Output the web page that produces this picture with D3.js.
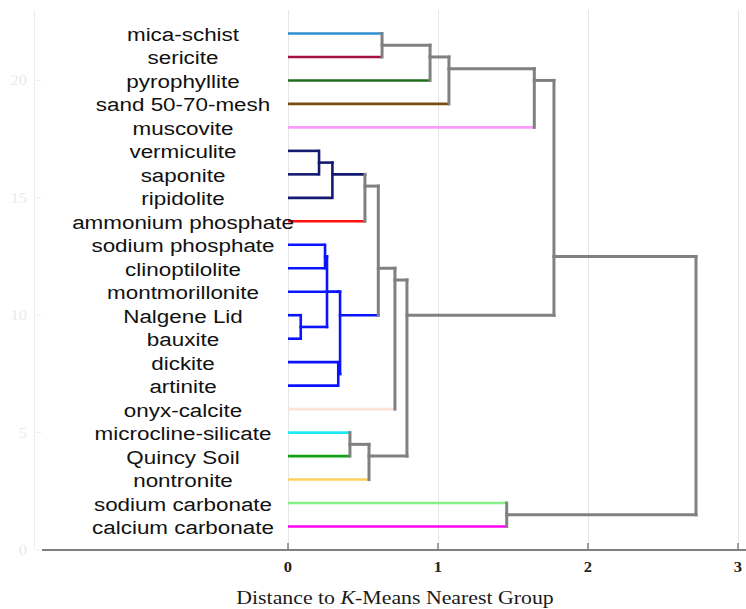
<!DOCTYPE html>
<html>
<head>
<meta charset="utf-8">
<script src="https://cdn.jsdelivr.net/npm/d3@7"></script>
<style>
  html, body { margin: 0; padding: 0; background: #fff; }
  svg { display: block; }
</style>
</head>
<body>
<div id="chart"></div>
<script>
// ---- DATA ----
const leafNames = [
  "mica-schist", "sericite", "pyrophyllite", "sand 50-70-mesh", "muscovite",
  "vermiculite", "saponite", "ripidolite", "ammonium phosphate",
  "sodium phosphate", "clinoptilolite", "montmorillonite", "Nalgene Lid",
  "bauxite", "dickite", "artinite", "onyx-calcite", "microcline-silicate",
  "Quincy Soil", "nontronite", "sodium carbonate", "calcium carbonate"
];
const leafColors = [
  "#2f8fd0", "#a3123f", "#1f6f1f", "#7a4b0e", "#ff9cff",
  "#141a72", "#141a72", "#141a72", "#ff1010",
  "#0a14ff", "#0a14ff", "#0a14ff", "#0a14ff",
  "#0a14ff", "#0a14ff", "#0a14ff", "#fce4d8", "#20e8f8",
  "#14a014", "#ffd060", "#88f088", "#ff00ee"
];
// linkage: [child A, child B] (leaf index < 22, merged node index = 22 + row)
const mergeChildren = [
  [0, 1], [22, 2], [23, 3], [24, 4],
  [5, 6], [26, 7], [27, 8],
  [12, 13], [9, 10], [30, 29], [31, 11], [14, 15], [32, 33],
  [28, 34], [35, 16], [17, 18], [37, 19], [36, 38],
  [25, 39], [20, 21], [40, 41]
];
const mergeHeights = [
  0.627, 0.947, 1.073, 1.642,
  0.207, 0.296, 0.513,
  0.085, 0.247, 0.26, 0.335, 0.335, 0.347,
  0.602, 0.713, 0.413, 0.54, 0.793,
  1.773, 1.458, 2.72
];
const xTicks = [0, 1, 2, 3];
const yTicks = [0, 5, 10, 15, 20];
const xTitleParts = ["Distance to ", "K", "-Means Nearest Group"];

// ---- LAYOUT ----
const W = 746, H = 609;
const GRAY = "#808080";
const SX = 1.18; // horizontal text stretch seen in the reference
const svg = d3.select("#chart").append("svg").attr("width", W).attr("height", H);

const x = d3.scaleLinear().domain([0, 3]).range([288, 738]);
const y = d3.scaleLinear().domain([0, 23]).range([550, 10]);

// frame / grid
svg.append("line").attr("x1", 34.5).attr("x2", 34.5).attr("y1", 10).attr("y2", 550)
  .attr("stroke", "#ececec").attr("stroke-width", 1);
svg.append("g").selectAll("line").data(xTicks).join("line")
  .attr("x1", d => x(d) + 0.5).attr("x2", d => x(d) + 0.5)
  .attr("y1", 10).attr("y2", 550)
  .attr("stroke", "#e6e6e6").attr("stroke-width", 1);

// y axis (faint)
const gy = svg.append("g");
gy.selectAll("line").data(yTicks).join("line")
  .attr("x1", 36).attr("x2", 41).attr("y1", d => y(d)).attr("y2", d => y(d))
  .attr("stroke", "#ececec").attr("stroke-width", 1);
gy.selectAll("text").data(yTicks).join("text")
  .attr("transform", d => `translate(27,${y(d)}) scale(${SX},1)`)
  .attr("dy", "0.35em").attr("text-anchor", "end")
  .attr("font-family", "'Liberation Serif', 'Times New Roman', serif")
  .attr("font-size", 14).attr("fill", "#eaeaea")
  .text(d => d);

// x axis
svg.append("line").attr("x1", 42).attr("x2", 746).attr("y1", 550).attr("y2", 550)
  .attr("stroke", GRAY).attr("stroke-width", 2);
const gx = svg.append("g");
gx.selectAll("line").data(xTicks).join("line")
  .attr("x1", d => x(d)).attr("x2", d => x(d)).attr("y1", 543).attr("y2", 550)
  .attr("stroke", GRAY).attr("stroke-width", 1.5);
gx.selectAll("text").data(xTicks).join("text")
  .attr("transform", d => `translate(${x(d)},571.5) scale(${SX},1)`)
  .attr("text-anchor", "middle")
  .attr("font-family", "'Liberation Serif', 'Times New Roman', serif")
  .attr("font-size", 14).attr("font-weight", "bold").attr("fill", "#222")
  .text(d => d);

const title = svg.append("text")
  .attr("transform", `translate(395,604) scale(${SX},1)`)
  .attr("text-anchor", "middle")
  .attr("font-family", "'Liberation Serif', 'Times New Roman', serif")
  .attr("font-size", 18.5).attr("fill", "#1a1a1a");
title.append("tspan").text(xTitleParts[0]);
title.append("tspan").attr("font-style", "italic").text(xTitleParts[1]);
title.append("tspan").text(xTitleParts[2]);

// ---- TREE ----
const nLeaves = leafNames.length;
const nodes = leafNames.map((name, i) => ({
  id: i, leaves: [i], h: 0, color: leafColors[i], pos: nLeaves - i
}));
mergeChildren.forEach(([a, b], k) => {
  const A = nodes[a], B = nodes[b];
  const leaves = A.leaves.concat(B.leaves);
  nodes.push({
    id: nLeaves + k, a: A, b: B, h: mergeHeights[k], leaves,
    color: A.color === B.color ? A.color : GRAY,
    pos: d3.mean(leaves, l => nLeaves - l)
  });
  A.parent = nodes[nLeaves + k];
  B.parent = nodes[nLeaves + k];
});

const gTree = svg.append("g").attr("fill", "none").attr("stroke-linecap", "square");
// horizontal segments: node -> parent height
nodes.filter(n => n.parent).forEach(n => {
  gTree.append("line")
    .attr("x1", x(n.h)).attr("x2", x(n.parent.h))
    .attr("y1", y(n.pos)).attr("y2", y(n.pos))
    .attr("stroke", n.color)
    .attr("stroke-width", n.color === GRAY ? 3 : 2.6)
    .attr("stroke-linecap", n.h === 0 ? "butt" : "square");
});
// vertical segments at merges
nodes.filter(n => n.a).forEach(n => {
  gTree.append("line")
    .attr("x1", x(n.h)).attr("x2", x(n.h))
    .attr("y1", y(n.a.pos)).attr("y2", y(n.b.pos))
    .attr("stroke", n.color)
    .attr("stroke-width", n.color === GRAY ? 3 : 2.6);
});

// leaf labels
svg.append("g").selectAll("text").data(leafNames).join("text")
  .attr("transform", (d, i) => `translate(183,${y(nLeaves - i) + 7.5}) scale(${SX},1)`)
  .attr("text-anchor", "middle")
  .attr("font-family", "'Liberation Sans', Arial, Helvetica, sans-serif")
  .attr("font-size", 19).attr("fill", "#111")
  .text(d => d);
</script>
</body>
</html>
